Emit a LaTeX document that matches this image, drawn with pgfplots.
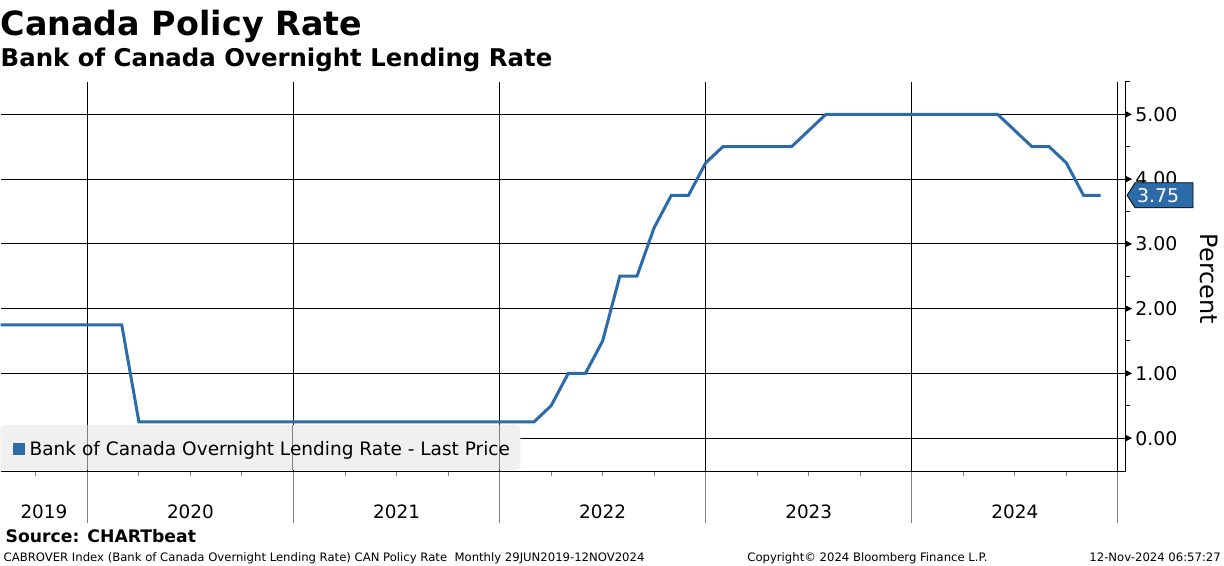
\documentclass[border=0pt]{standalone}
\usepackage{pgfplots}
\pgfplotsset{compat=1.18}
\usepackage{pgfplotstable}
\usepackage{fontspec}
\setmainfont{DejaVu Sans}
\newfontfamily\boldfam{DejaVu Sans}

\definecolor{bbblue}{RGB}{44,107,170}
\definecolor{legbg}{RGB}{240,240,240}
\definecolor{sepgray}{RGB}{128,128,128}

% month index: 0 = end of Dec 2019, 12 = end of Dec 2020, ...
\pgfplotstableread{
m rate
-6 1.75
-5 1.75
-4 1.75
-3 1.75
-2 1.75
-1 1.75
0 1.75
1 1.75
2 1.75
3 0.25
4 0.25
5 0.25
6 0.25
7 0.25
8 0.25
9 0.25
10 0.25
11 0.25
12 0.25
13 0.25
14 0.25
15 0.25
16 0.25
17 0.25
18 0.25
19 0.25
20 0.25
21 0.25
22 0.25
23 0.25
24 0.25
25 0.25
26 0.25
27 0.50
28 1.00
29 1.00
30 1.50
31 2.50
32 2.50
33 3.25
34 3.75
35 3.75
36 4.25
37 4.50
38 4.50
39 4.50
40 4.50
41 4.50
42 4.75
43 5.00
44 5.00
45 5.00
46 5.00
47 5.00
48 5.00
49 5.00
50 5.00
51 5.00
52 5.00
53 5.00
54 4.75
55 4.50
56 4.50
57 4.25
58 3.75
59 3.75
}\ratedata

\begin{document}
\begin{tikzpicture}[x=1bp,y=1bp]

\begin{axis}[
  at={(0,0)}, anchor=south west,
  width=1125bp, height=390bp, scale only axis,
  xmin=-5.06, xmax=60.42, ymin=-0.52, ymax=5.5,
  axis x line*=bottom, axis y line*=right,
  axis line style={-, line width=1bp, black},
  xtick=\empty,
  ytick={0,1,2,3,4,5},
  minor ytick={0.5,1.5,2.5,3.5,4.5,5.5},
  major tick length=0pt, minor tick length=5bp,
  tick align=outside,
  every tick/.style={black, line width=1bp},
  yticklabel style={anchor=west, inner sep=0pt, xshift=10bp,
    font=\fontsize{19}{19}\selectfont,
    /pgf/number format/fixed, /pgf/number format/fixed zerofill,
    /pgf/number format/precision=2, /pgf/number format/assume math mode=true},
  clip mode=individual,
]
  % horizontal grid with tick arrows
  \pgfplotsinvokeforeach{0,1,2,3,4,5}{
    \draw[black, line width=1bp] (axis cs:-5.06,#1) -- (axis cs:60.42,#1);
    \fill[black] (axis cs:60.42,#1) ++(0bp,3.5bp) -- ++(7bp,-3.5bp) -- ++(-7bp,-3.5bp) -- cycle;
  }
  % year grid and separators
  \pgfplotsinvokeforeach{0,12,24,36,48,60}{
    \draw[black, line width=1bp] (axis cs:#1,-0.52) -- (axis cs:#1,5.5);
    \draw[sepgray, line width=1bp] (axis cs:#1,-0.52) -- ++(0bp,-51bp);
  }
  % quarter ticks
  \pgfplotsinvokeforeach{-3,3,6,9,15,18,21,27,30,33,39,42,45,51,54,57}{
    \draw[sepgray, line width=1bp] (axis cs:#1,-0.52) -- ++(0bp,-4bp);
  }
  % year labels
  \node[anchor=base, yshift=-47bp, font=\fontsize{18.5}{18.5}\selectfont] at (axis cs:-2.53,-0.52) {2019};
  \node[anchor=base, yshift=-47bp, font=\fontsize{18.5}{18.5}\selectfont] at (axis cs:6,-0.52) {2020};
  \node[anchor=base, yshift=-47bp, font=\fontsize{18.5}{18.5}\selectfont] at (axis cs:18,-0.52) {2021};
  \node[anchor=base, yshift=-47bp, font=\fontsize{18.5}{18.5}\selectfont] at (axis cs:30,-0.52) {2022};
  \node[anchor=base, yshift=-47bp, font=\fontsize{18.5}{18.5}\selectfont] at (axis cs:42,-0.52) {2023};
  \node[anchor=base, yshift=-47bp, font=\fontsize{18.5}{18.5}\selectfont] at (axis cs:54,-0.52) {2024};

  \addplot[bbblue, line width=3bp] table[x=m, y=rate] {\ratedata};

  \coordinate (O) at (rel axis cs:0,0);
  \coordinate (tag) at (axis cs:60.42,3.75);
\end{axis}

% last value tag
\draw[shift={(tag)}, fill=bbblue, line width=0.8bp] (2,0) -- (10,12.5) -- (68,12.5) -- (68,-12.5) -- (10,-12.5) -- cycle;
\node[xshift=33bp, anchor=center, text=white, inner sep=0pt, font=\fontsize{19}{19}\selectfont] at (tag) {3.75};

% page frame: origin 94bp below the axis box
\begin{scope}[shift={(O)}, yshift=-94bp]
\useasboundingbox (0,0) rectangle (1224,566);

% legend
\fill[legbg, rounded corners=4bp] (0,96) rectangle (520,141);
\foreach \xx in {87,292.5,499} {\draw[sepgray, line width=1bp] (\xx,96) -- (\xx,141);}
\fill[bbblue] (13,111) rectangle (25,123);
\node[anchor=base west, inner sep=0pt, font=\fontsize{18.6}{18.6}\selectfont] at (29,110.5)
  {Bank of Canada Overnight Lending Rate - Last Price};

% axis title
\node[rotate=-90, inner sep=0pt, font=\fontsize{24}{24}\selectfont] at (1209,287) {Percent};

% titles
\node[anchor=base west, inner sep=0pt, font=\boldfam\bfseries\fontsize{33.5}{33.5}\selectfont] at (0,530) {Canada Policy Rate};
\node[anchor=base west, inner sep=0pt, font=\boldfam\bfseries\fontsize{24.5}{24.5}\selectfont] at (0,499) {Bank of Canada Overnight Lending Rate};

% footer
\node[anchor=base west, inner sep=0pt, font=\boldfam\bfseries\fontsize{17.3}{17.3}\selectfont] at (5,23) {Source: CHARTbeat};
\node[anchor=base west, inner sep=0pt, font=\fontsize{11.7}{11.7}\selectfont] at (3,4)
  {CABROVER Index (Bank of Canada Overnight Lending Rate) CAN Policy Rate\ \ Monthly 29JUN2019-12NOV2024};
\node[anchor=base west, inner sep=0pt, font=\fontsize{11.7}{11.7}\selectfont] at (747,4) {Copyright© 2024 Bloomberg Finance L.P.};
\node[anchor=base east, inner sep=0pt, font=\fontsize{11.7}{11.7}\selectfont] at (1221,4) {12-Nov-2024 06:57:27};
\end{scope}
\end{tikzpicture}
\end{document}
